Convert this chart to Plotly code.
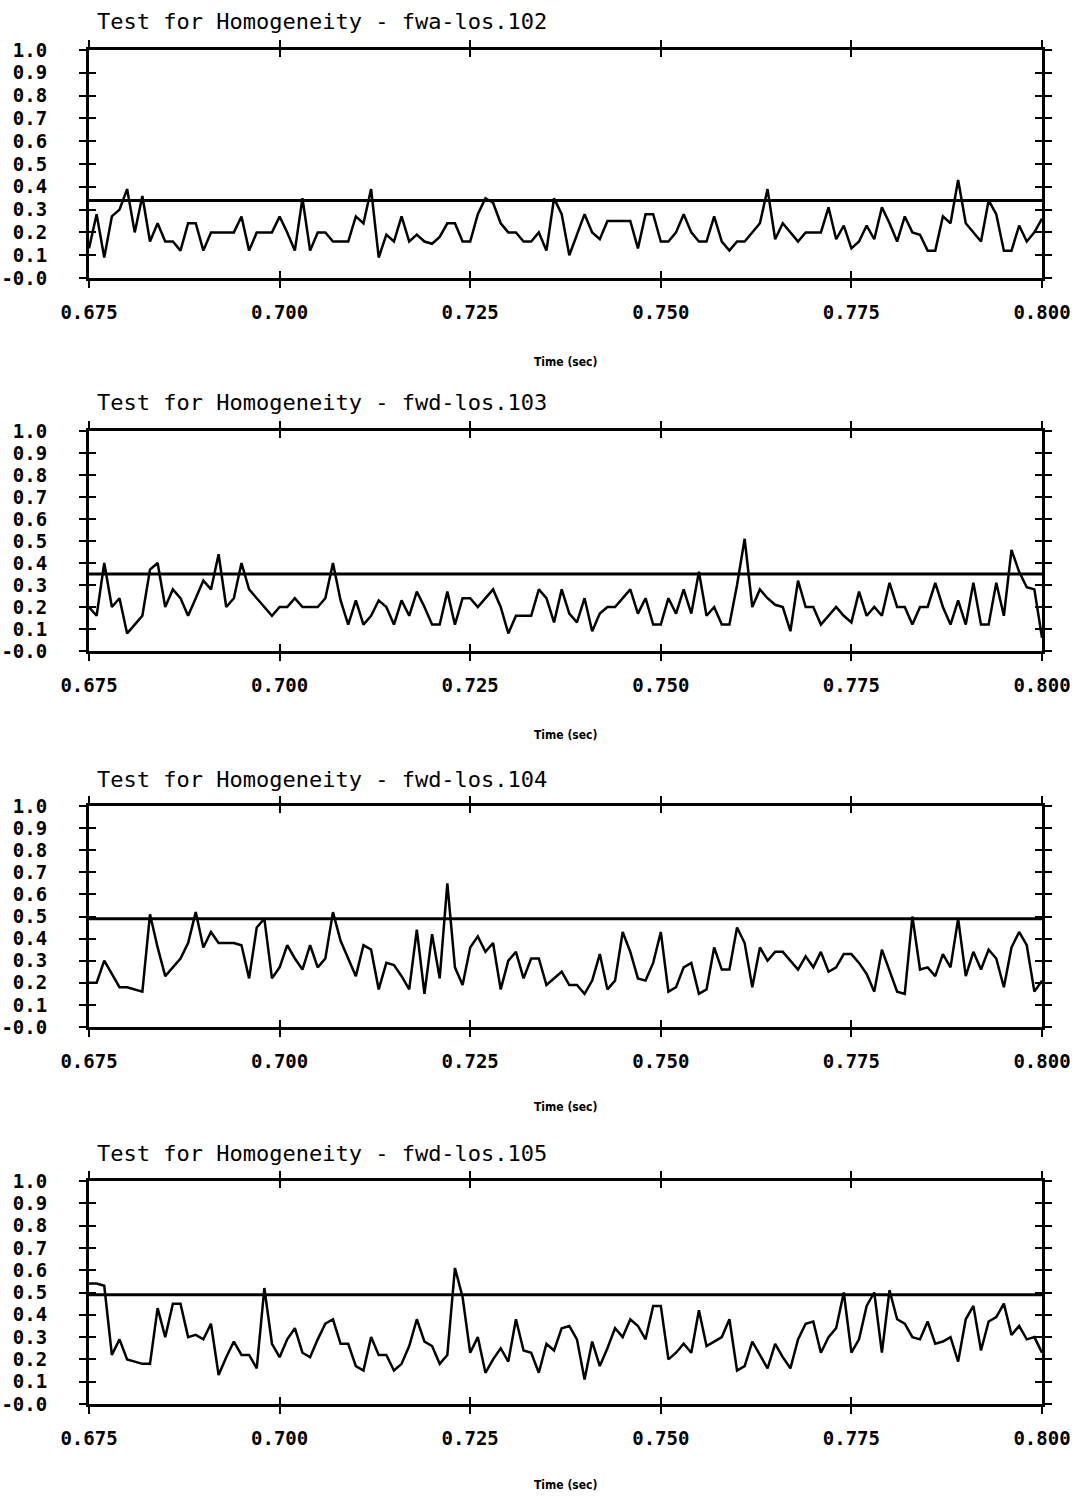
import plotly.graph_objects as go

# ---------------- data ----------------
time_start = 0.675
time_step = 0.001  # 1 ms sampling

x_ticks = [0.675, 0.700, 0.725, 0.750, 0.775, 0.800]
x_tick_labels = ["0.675", "0.700", "0.725", "0.750", "0.775", "0.800"]
y_ticks = [0.0, 0.1, 0.2, 0.3, 0.4, 0.5, 0.6, 0.7, 0.8, 0.9, 1.0]
y_tick_labels = ["-0.0", "0.1", "0.2", "0.3", "0.4", "0.5", "0.6", "0.7", "0.8", "0.9", "1.0"]

titles = [
    "Test for Homogeneity - fwa-los.102",
    "Test for Homogeneity - fwd-los.103",
    "Test for Homogeneity - fwd-los.104",
    "Test for Homogeneity - fwd-los.105",
]
x_axis_title = "Time (sec)"
thresholds = [0.34, 0.35, 0.49, 0.49]

hom_102 = [
    0.13, 0.28, 0.09, 0.27, 0.30, 0.39, 0.20, 0.36, 0.16, 0.24,
    0.16, 0.16, 0.12, 0.24, 0.24, 0.12, 0.20, 0.20, 0.20, 0.20,
    0.27, 0.12, 0.20, 0.20, 0.20, 0.27, 0.20, 0.12, 0.35, 0.12,
    0.20, 0.20, 0.16, 0.16, 0.16, 0.27, 0.24, 0.39, 0.09, 0.19,
    0.16, 0.27, 0.16, 0.19, 0.16, 0.15, 0.18, 0.24, 0.24, 0.16,
    0.16, 0.28, 0.35, 0.33, 0.24, 0.20, 0.20, 0.16, 0.16, 0.20,
    0.12, 0.35, 0.28, 0.10, 0.19, 0.28, 0.20, 0.17, 0.25, 0.25,
    0.25, 0.25, 0.13, 0.28, 0.28, 0.16, 0.16, 0.20, 0.28, 0.20,
    0.16, 0.16, 0.27, 0.16, 0.12, 0.16, 0.16, 0.20, 0.24, 0.39,
    0.17, 0.24, 0.20, 0.16, 0.20, 0.20, 0.20, 0.31, 0.17, 0.23,
    0.13, 0.16, 0.23, 0.17, 0.31, 0.24, 0.16, 0.27, 0.20, 0.19,
    0.12, 0.12, 0.27, 0.24, 0.43, 0.24, 0.20, 0.16, 0.34, 0.28,
    0.12, 0.12, 0.23, 0.16, 0.20, 0.26,
]
hom_103 = [
    0.20, 0.16, 0.40, 0.20, 0.24, 0.08, 0.12, 0.16, 0.37, 0.40,
    0.20, 0.28, 0.24, 0.16, 0.24, 0.32, 0.28, 0.44, 0.20, 0.24,
    0.40, 0.28, 0.24, 0.20, 0.16, 0.20, 0.20, 0.24, 0.20, 0.20,
    0.20, 0.24, 0.40, 0.23, 0.12, 0.23, 0.12, 0.16, 0.23, 0.20,
    0.12, 0.23, 0.16, 0.27, 0.20, 0.12, 0.12, 0.27, 0.12, 0.24,
    0.24, 0.20, 0.24, 0.28, 0.20, 0.08, 0.16, 0.16, 0.16, 0.28,
    0.24, 0.13, 0.28, 0.17, 0.13, 0.24, 0.09, 0.17, 0.20, 0.20,
    0.24, 0.28, 0.17, 0.24, 0.12, 0.12, 0.24, 0.17, 0.28, 0.17,
    0.36, 0.16, 0.20, 0.12, 0.12, 0.30, 0.51, 0.20, 0.28, 0.24,
    0.21, 0.20, 0.09, 0.32, 0.20, 0.20, 0.12, 0.16, 0.20, 0.16,
    0.13, 0.27, 0.16, 0.20, 0.16, 0.31, 0.20, 0.20, 0.12, 0.20,
    0.20, 0.31, 0.20, 0.12, 0.23, 0.12, 0.31, 0.12, 0.12, 0.31,
    0.16, 0.46, 0.36, 0.29, 0.28, 0.06,
]
hom_104 = [
    0.20, 0.20, 0.30, 0.24, 0.18, 0.18, 0.17, 0.16, 0.51, 0.36,
    0.23, 0.27, 0.31, 0.38, 0.52, 0.36, 0.43, 0.38, 0.38, 0.38,
    0.37, 0.22, 0.45, 0.49, 0.22, 0.27, 0.37, 0.31, 0.26, 0.37,
    0.27, 0.31, 0.52, 0.39, 0.31, 0.23, 0.37, 0.35, 0.17, 0.29,
    0.28, 0.23, 0.17, 0.44, 0.15, 0.42, 0.22, 0.65, 0.27, 0.19,
    0.36, 0.41, 0.34, 0.38, 0.17, 0.30, 0.34, 0.22, 0.31, 0.31,
    0.19, 0.22, 0.25, 0.19, 0.19, 0.15, 0.21, 0.33, 0.17, 0.21,
    0.43, 0.34, 0.22, 0.21, 0.29, 0.43, 0.16, 0.18, 0.27, 0.29,
    0.15, 0.17, 0.36, 0.26, 0.26, 0.45, 0.38, 0.18, 0.36, 0.30,
    0.34, 0.34, 0.30, 0.26, 0.32, 0.27, 0.34, 0.25, 0.27, 0.33,
    0.33, 0.29, 0.24, 0.16, 0.35, 0.25, 0.16, 0.15, 0.50, 0.26,
    0.27, 0.23, 0.33, 0.27, 0.49, 0.23, 0.34, 0.26, 0.35, 0.31,
    0.18, 0.36, 0.43, 0.37, 0.16, 0.21,
]
hom_105 = [
    0.54, 0.54, 0.53, 0.22, 0.29, 0.20, 0.19, 0.18, 0.18, 0.43,
    0.30, 0.45, 0.45, 0.30, 0.31, 0.29, 0.36, 0.13, 0.21, 0.28,
    0.22, 0.22, 0.16, 0.52, 0.27, 0.21, 0.29, 0.34, 0.23, 0.21,
    0.29, 0.36, 0.38, 0.27, 0.27, 0.17, 0.15, 0.30, 0.22, 0.22,
    0.15, 0.18, 0.26, 0.38, 0.28, 0.26, 0.18, 0.22, 0.61, 0.48,
    0.23, 0.30, 0.14, 0.20, 0.25, 0.19, 0.38, 0.24, 0.23, 0.14,
    0.27, 0.24, 0.34, 0.35, 0.29, 0.11, 0.28, 0.17, 0.25, 0.34,
    0.30, 0.38, 0.35, 0.29, 0.44, 0.44, 0.20, 0.23, 0.27, 0.23,
    0.42, 0.26, 0.28, 0.30, 0.38, 0.15, 0.17, 0.28, 0.22, 0.16,
    0.27, 0.21, 0.16, 0.29, 0.36, 0.37, 0.23, 0.30, 0.34, 0.50,
    0.23, 0.29, 0.44, 0.50, 0.23, 0.51, 0.38, 0.36, 0.30, 0.29,
    0.37, 0.27, 0.28, 0.30, 0.19, 0.38, 0.44, 0.24, 0.37, 0.39,
    0.45, 0.31, 0.35, 0.29, 0.30, 0.23,
]
series = [hom_102, hom_103, hom_104, hom_105]

# ---------------- layout (pixels) ----------------
W, H = 1082, 1499
PLOT_LEFT, PLOT_RIGHT = 89, 1042
panel_px = [(50, 278), (431, 651), (806, 1027), (1181, 1404)]  # (top, bottom)
title_y_px = [22, 403, 779, 1153]
time_label_y_px = [362, 735, 1107, 1485]

MONO = "DejaVu Sans Mono"
tick_font = dict(family=MONO, size=19, color="black", weight="bold")


def py(px):
    return 1 - px / H


fig = go.Figure()
layout = dict(
    width=W, height=H, autosize=False,
    margin=dict(l=0, r=0, t=0, b=0, autoexpand=False),
    paper_bgcolor="white", plot_bgcolor="white",
    showlegend=False,
    annotations=[],
)

xdom = [PLOT_LEFT / W, PLOT_RIGHT / W]
for k in range(4):
    top, bot = panel_px[k]
    ydom = [py(bot), py(top)]
    n = k + 1
    m = k + 5
    xs = "" if n == 1 else str(n)
    xname, yname = "x" + xs, "y" + xs
    oxname, oyname = "x" + str(m), "y" + str(m)

    vals = series[k]
    times = [round(time_start + time_step * i, 4) for i in range(len(vals))]

    fig.add_trace(go.Scatter(
        x=times, y=vals, mode="lines",
        line=dict(color="black", width=2.5),
        xaxis=xname, yaxis=yname, hoverinfo="skip",
    ))
    fig.add_trace(go.Scatter(
        x=[x_ticks[0], x_ticks[-1]], y=[thresholds[k], thresholds[k]], mode="lines",
        line=dict(color="black", width=3),
        xaxis=oxname, yaxis=oyname, hoverinfo="skip",
    ))

    common_x = dict(range=[x_ticks[0], x_ticks[-1]], tickvals=x_ticks,
                    showgrid=False, zeroline=False, fixedrange=True, automargin=False,
                    linecolor="black", linewidth=3, tickcolor="black",
                    tickwidth=2, ticklen=7)
    common_y = dict(range=[0, 1], tickvals=y_ticks,
                    showgrid=False, zeroline=False, fixedrange=True, automargin=False,
                    linecolor="black", linewidth=3, tickcolor="black",
                    tickwidth=2, ticklen=7)

    layout["xaxis" + xs] = dict(
        common_x, domain=xdom, anchor=yname, showline=True, mirror="ticks",
        ticks="outside", ticktext=x_tick_labels, showticklabels=True,
        tickfont=tick_font, ticklabelstandoff=8,
    )
    layout["yaxis" + xs] = dict(
        common_y, domain=ydom, anchor=xname, showline=True, mirror="ticks",
        ticks="outside", ticktext=y_tick_labels, showticklabels=True,
        tickfont=tick_font, ticklabelstandoff=28,
    )
    layout["xaxis" + str(m)] = dict(
        common_x, overlaying=xname, anchor=oyname, showline=True, mirror="ticks",
        ticks="inside", showticklabels=False,
    )
    layout["yaxis" + str(m)] = dict(
        common_y, overlaying=yname, anchor=oxname, showline=True, mirror="ticks",
        ticks="inside", showticklabels=False,
    )

    layout["annotations"].append(dict(
        text=titles[k], xref="paper", yref="paper",
        x=95 / W, y=py(title_y_px[k]), xanchor="left", yanchor="middle",
        showarrow=False, font=dict(family=MONO, size=22, color="black"),
    ))
    layout["annotations"].append(dict(
        text=x_axis_title, xref="paper", yref="paper",
        x=565 / W, y=py(time_label_y_px[k]), xanchor="center", yanchor="middle",
        showarrow=False,
        font=dict(family="DejaVu Sans Condensed", size=12, color="black", weight="bold"),
    ))

fig.update_layout(**layout)
fig.write_html("out.html")
